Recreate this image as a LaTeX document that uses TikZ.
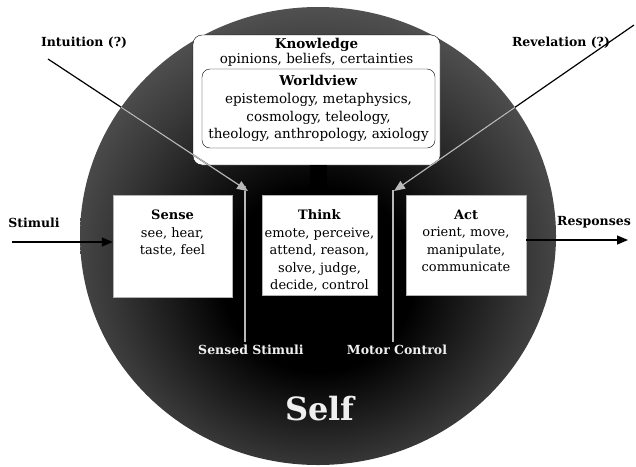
\documentclass[tikz,border=0pt]{standalone}
\usepackage{fontspec}
\setmainfont{DejaVu Serif}
\usetikzlibrary{positioning,arrows.meta}
\pgfdeclareradialshading{selfglow}{\pgfpoint{0bp}{-6bp}}{color(0bp)=(black); color(10bp)=(black); color(22bp)=(black!78); color(34bp)=(black!58); color(50bp)=(black!58)}
\newcommand{\stagetext}[3]{\parbox[c][#2][t]{#1}{\centering\vspace*{15pt}#3}}
\begin{document}
\begin{tikzpicture}[x=1pt,y=-1pt,
		every node/.style={font=\fontsize{13.5}{17.5}\selectfont},
		stagebox/.style={fill=white,draw=gray!60,inner sep=0pt,font=\fontsize{13}{17.5}\selectfont},
		mindbox/.style={fill=white,draw=black,rounded corners=9pt,inner sep=0pt},
		outlabel/.style={font=\fontsize{12.5}{15}\bfseries},
		flow/.style={line width=1.2pt,-{Triangle[length=11pt,width=9pt]}},
		glow/.style={gray!55,line width=1.2pt},
		inlabel/.style={text=gray!12,font=\fontsize{12.5}{16}\bfseries}]
	\useasboundingbox (0,0) rectangle (636,466);
	% the self
	\shade[shading=selfglow] (318,236) ellipse [x radius=238,y radius=229];
	% knowledge and worldview
	\node[mindbox,minimum width=247,minimum height=130] (know) at (316.5,100) {};
	\node[font=\fontsize{13.5}{15}\selectfont,align=center] (knowtitle) at (316.5,52) {\textbf{Knowledge}\\opinions, beliefs, certainties};
	\node[mindbox,minimum width=233,minimum height=79,rounded corners=8pt,align=center] (world) at (318.5,108.5)
		{\textbf{Worldview}\\[0.5pt]epistemology, metaphysics,\\cosmology, teleology,\\theology, anthropology, axiology};
	% sense, think, act
	\node[stagebox] (sense) at (172.5,246) {\stagetext{119pt}{102pt}{\textbf{Sense}\\see, hear,\\taste, feel}};
	\node[stagebox] (think) at (319.5,245) {\stagetext{115pt}{100pt}{\textbf{Think}\\emote, perceive,\\attend, reason,\\solve, judge,\\decide, control}};
	\node[stagebox] (act) at (466,245) {\stagetext{120pt}{100pt}{\textbf{Act}\\orient, move,\\manipulate,\\communicate}};
	\draw[line width=17pt] (know.south -| 318,0) -- (think.north -| 318,0);
	% inner connections
	\node[inlabel] (sensed) at (251,350) {Sensed Stimuli};
	\node[inlabel] (motor) at (397,350) {Motor Control};
	\coordinate (sensedtop) at (245,186);
	\coordinate (motortop) at (393,190);
	\draw[glow] (sensedtop) -- (sensedtop |- sensed.north);
	\draw[glow] (motortop) -- (motortop |- motor.north);
	\node[text=gray!12,font=\fontsize{32}{36}\bfseries] (self) at (320,409) {Self};
	% outside
	\node[outlabel] (stim) at (34,223) {Stimuli};
	\node[outlabel] (resp) at (594,222) {Responses};
	\node[outlabel] (intu) at (84,43) {Intuition (?)};
	\node[outlabel] (reve) at (561,43) {Revelation (?)};
	\coordinate (stimin) at (12,242);
	\coordinate (respout) at (628,240);
	\coordinate (intuin) at (48,59);
	\coordinate (intutip) at (248,191);
	\coordinate (revein) at (634,25);
	\coordinate (revetip) at (394,191);
	\draw[flow] (stimin) -- (stimin -| sense.west);
	\draw[flow] (respout -| act.east) -- (respout);
	\draw[flow] (intuin) -- (intutip);
	\draw[flow] (revein) -- (revetip);
	\begin{scope}
		\clip (318,236) ellipse [x radius=238,y radius=229];
		\draw[flow,gray!55] (intuin) -- (intutip);
		\draw[flow,gray!55] (revein) -- (revetip);
	\end{scope}
\end{tikzpicture}
\end{document}
